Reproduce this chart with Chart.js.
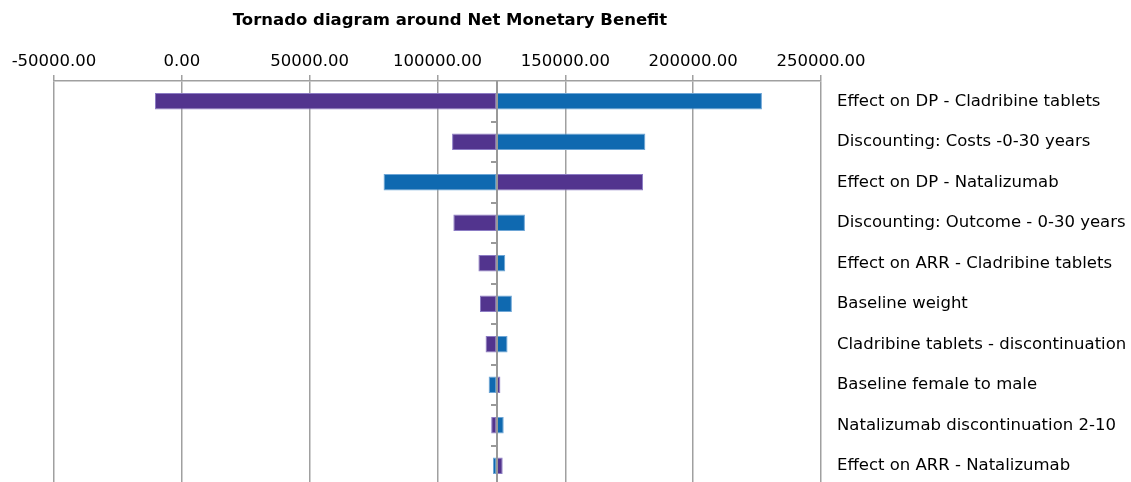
<!DOCTYPE html>
<html>
<head>
<meta charset="utf-8">
<script src="https://cdn.jsdelivr.net/npm/chart.js@4/dist/chart.umd.min.js"></script>
<style>
    html, body { margin: 0; padding: 0; background: #fff; overflow: hidden; }
    #tornado { display: block; }
</style>
</head>
<body>
<canvas id="tornado" width="1131" height="486"></canvas>
<script>
// Valores
const categorias = [
    "Effect on DP - Cladribine tablets",
    "Discounting: Costs -0-30 years",
    "Effect on DP - Natalizumab",
    "Discounting: Outcome - 0-30 years",
    "Effect on ARR - Cladribine tablets",
    "Baseline weight",
    "Cladribine tablets - discontinuation",
    "Baseline female to male",
    "Natalizumab discontinuation 2-10",
    "Effect on ARR - Natalizumab"
];
const valorBase = 123100;
const valoresMorado = [-10500, 105700, 180400, 106200, 116000, 116600, 118800, 124600, 121000, 125500];
const valoresAzul = [226900, 181300, 78900, 134200, 126500, 129100, 127400, 120000, 125900, 121700];
const ejeMin = -50000;
const ejeMax = 250000;
const ejePaso = 50000;
const titulo = "Tornado diagram around Net Monetary Benefit";

const colorGris = "#a0a0a0";
const fuente = "'DejaVu Sans', Verdana, sans-serif";

// Título centrado sobre la zona de barras, como en el original
const tituloGrafica = {
    id: "tituloGrafica",
    afterDraw(chart) {
        const { ctx } = chart;
        ctx.save();
        ctx.fillStyle = "#000";
        ctx.font = "bold 16.5px " + fuente;
        ctx.textAlign = "center";
        ctx.textBaseline = "middle";
        ctx.fillText(titulo, 450, 21);
        ctx.restore();
    }
};

// Línea del valor base con sus marcas entre categorías
const lineaBase = {
    id: "lineaBase",
    afterDatasetsDraw(chart) {
        const { ctx, chartArea, scales } = chart;
        const x = Math.round(scales.x.getPixelForValue(valorBase));
        ctx.save();
        ctx.strokeStyle = "#999";
        ctx.lineWidth = 2;
        ctx.beginPath();
        ctx.moveTo(x, chartArea.top);
        ctx.lineTo(x, chartArea.bottom);
        for (let i = 0; i < categorias.length - 1; i++) {
            const y = Math.round(scales.y.getPixelForValue(i + 0.5));
            ctx.moveTo(x - 6, y);
            ctx.lineTo(x, y);
        }
        ctx.stroke();
        ctx.restore();
    }
};

new Chart(document.getElementById("tornado"), {
    type: "bar",
    data: {
        labels: categorias,
        datasets: [
            {
                label: "Bajo",
                data: valoresMorado.map((v) => [valorBase, v]),
                backgroundColor: "#52348e",
                borderColor: "#8c7cc4",
                borderWidth: 1,
                borderSkipped: false,
                grouped: false,
                barPercentage: 0.41,
                categoryPercentage: 1
            },
            {
                label: "Alto",
                data: valoresAzul.map((v) => [valorBase, v]),
                backgroundColor: "#0f69b0",
                borderColor: "#6ea6d6",
                borderWidth: 1,
                borderSkipped: false,
                grouped: false,
                barPercentage: 0.41,
                categoryPercentage: 1
            }
        ]
    },
    options: {
        indexAxis: "y",
        responsive: false,
        animation: false,
        layout: {
            padding: { left: 54, right: 0, top: 39, bottom: 0 }
        },
        plugins: {
            legend: { display: false },
            tooltip: { enabled: false },
            title: { display: false }
        },
        scales: {
            x: {
                position: "top",
                min: ejeMin,
                max: ejeMax,
                afterFit: (escala) => { escala.height = 42; },
                ticks: {
                    stepSize: ejePaso,
                    color: "#000",
                    padding: 3,
                    font: { family: fuente, size: 16.5 },
                    callback: (valor) => valor.toFixed(2)
                },
                grid: {
                    color: colorGris,
                    lineWidth: 1.5,
                    tickLength: 6
                },
                border: { display: true, color: colorGris, width: 1.5 }
            },
            y: {
                position: "right",
                offset: true,
                afterFit: (escala) => {
                    escala.width = 310;
                    escala.paddingTop = 0;
                    escala.paddingBottom = 0;
                },
                ticks: {
                    color: "#000",
                    padding: 16,
                    font: { family: fuente, size: 16.5 }
                },
                grid: { display: false, drawTicks: false },
                border: { display: false }
            }
        }
    },
    plugins: [lineaBase, tituloGrafica]
});
</script>
</body>
</html>
